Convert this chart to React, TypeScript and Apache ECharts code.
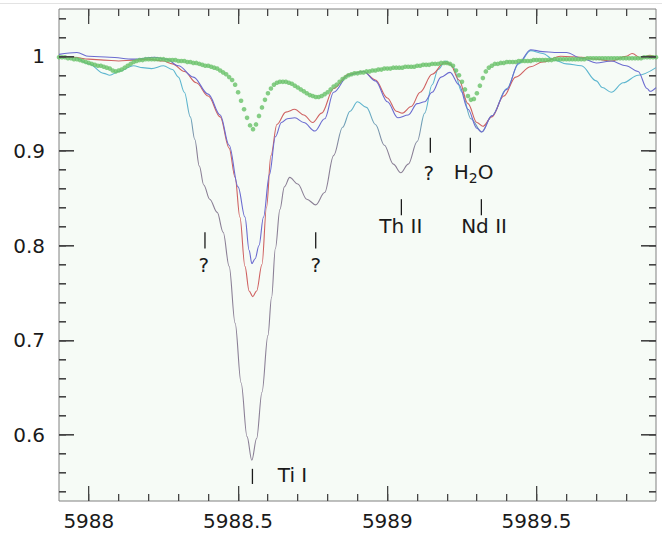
import React, { useEffect, useRef } from "react";
import * as echarts from "echarts";

// Axis ranges (wavelength in Å, normalised flux)
const WL_MIN = 5987.9;
const WL_MAX = 5989.9;
const FLUX_MIN = 0.53;
const FLUX_MAX = 1.05;

const xLabelTicks = [5988, 5988.5, 5989, 5989.5];
const xMinorTicks = [
  5988.0, 5988.1, 5988.2, 5988.3, 5988.4, 5988.5, 5988.6, 5988.7, 5988.8, 5988.9,
  5989.0, 5989.1, 5989.2, 5989.3, 5989.4, 5989.5, 5989.6, 5989.7, 5989.8,
];
const yLabelTicks = [0.6, 0.7, 0.8, 0.9, 1];
const yMinorTicks = [
  0.54, 0.56, 0.58, 0.6, 0.62, 0.64, 0.66, 0.68, 0.7, 0.72, 0.74, 0.76, 0.78,
  0.8, 0.82, 0.84, 0.86, 0.88, 0.9, 0.92, 0.94, 0.96, 0.98, 1.0, 1.02, 1.04,
];

// Deepest spectrum (cyan in the continuum, greyish in the cores)
const spectrumDeep: [number, number][] = [
  [5987.9, 1.0], [5987.95, 0.999], [5988.0, 0.992], [5988.05, 0.982], [5988.07, 0.98],
  [5988.1, 0.984], [5988.15, 0.99], [5988.18, 0.988], [5988.21, 0.987], [5988.25, 0.99],
  [5988.28, 0.986], [5988.3, 0.978], [5988.32, 0.962], [5988.34, 0.936], [5988.355, 0.912],
  [5988.37, 0.884], [5988.385, 0.864], [5988.405, 0.849], [5988.43, 0.835], [5988.45, 0.814],
  [5988.47, 0.778], [5988.49, 0.718], [5988.51, 0.655], [5988.53, 0.598], [5988.546, 0.573],
  [5988.562, 0.596], [5988.58, 0.645], [5988.6, 0.705], [5988.612, 0.745], [5988.625, 0.797],
  [5988.64, 0.838], [5988.655, 0.862], [5988.673, 0.872], [5988.7, 0.865], [5988.73, 0.849],
  [5988.76, 0.843], [5988.79, 0.856], [5988.82, 0.895], [5988.85, 0.925], [5988.875, 0.942],
  [5988.9, 0.952], [5988.93, 0.946], [5988.96, 0.928], [5988.99, 0.906], [5989.02, 0.886],
  [5989.045, 0.877], [5989.07, 0.886], [5989.1, 0.91], [5989.125, 0.94], [5989.15, 0.97],
  [5989.17, 0.986], [5989.195, 0.995], [5989.22, 0.989], [5989.25, 0.962], [5989.28, 0.934],
  [5989.316, 0.92], [5989.35, 0.937], [5989.4, 0.966], [5989.44, 0.992], [5989.48, 1.006],
  [5989.52, 1.003], [5989.56, 0.996], [5989.6, 0.992], [5989.65, 0.99], [5989.7, 0.974],
  [5989.72, 0.967], [5989.75, 0.962], [5989.79, 0.972], [5989.84, 0.98], [5989.9, 0.988],
];

const spectrumRed: [number, number][] = [
  [5987.9, 1.0], [5987.95, 0.999], [5988.0, 0.997], [5988.05, 0.996], [5988.1, 0.995],
  [5988.15, 0.996], [5988.2, 0.997], [5988.25, 0.995], [5988.28, 0.992], [5988.32, 0.984],
  [5988.36, 0.972], [5988.4, 0.958], [5988.44, 0.936], [5988.47, 0.903], [5988.49, 0.872],
  [5988.506, 0.83], [5988.523, 0.778], [5988.537, 0.752], [5988.549, 0.746], [5988.562, 0.752],
  [5988.58, 0.78], [5988.595, 0.84], [5988.61, 0.895], [5988.63, 0.928], [5988.66, 0.941],
  [5988.69, 0.944], [5988.72, 0.938], [5988.75, 0.93], [5988.78, 0.94], [5988.82, 0.966],
  [5988.87, 0.981], [5988.92, 0.984], [5988.96, 0.975], [5989.0, 0.956], [5989.03, 0.942],
  [5989.05, 0.94], [5989.08, 0.947], [5989.11, 0.962], [5989.15, 0.981], [5989.19, 0.993],
  [5989.21, 0.992], [5989.24, 0.975], [5989.27, 0.95], [5989.3, 0.93], [5989.32, 0.926],
  [5989.35, 0.936], [5989.39, 0.958], [5989.43, 0.978], [5989.48, 0.989], [5989.52, 0.994],
  [5989.58, 1.0], [5989.65, 0.999], [5989.7, 0.997], [5989.75, 0.995], [5989.8, 1.0],
  [5989.82, 1.003], [5989.85, 0.998], [5989.88, 1.001], [5989.9, 0.999],
];

const spectrumBlue: [number, number][] = [
  [5987.9, 1.002], [5987.96, 1.004], [5988.0, 1.0], [5988.07, 0.999], [5988.15, 0.997],
  [5988.22, 0.999], [5988.26, 0.997], [5988.3, 0.99], [5988.35, 0.978], [5988.4, 0.96],
  [5988.44, 0.938], [5988.47, 0.906], [5988.5, 0.862], [5988.523, 0.83], [5988.537, 0.795],
  [5988.546, 0.781], [5988.557, 0.786], [5988.57, 0.8], [5988.585, 0.83], [5988.605, 0.875],
  [5988.625, 0.915], [5988.645, 0.93], [5988.665, 0.934], [5988.69, 0.935], [5988.72, 0.93],
  [5988.757, 0.921], [5988.79, 0.934], [5988.82, 0.962], [5988.87, 0.98], [5988.92, 0.984],
  [5988.96, 0.974], [5989.0, 0.952], [5989.035, 0.935], [5989.07, 0.938], [5989.1, 0.95],
  [5989.125, 0.952], [5989.15, 0.962], [5989.18, 0.978], [5989.21, 0.983], [5989.24, 0.97],
  [5989.27, 0.944], [5989.3, 0.924], [5989.316, 0.92], [5989.35, 0.937], [5989.4, 0.965],
  [5989.44, 0.993], [5989.48, 1.007], [5989.52, 1.005], [5989.56, 1.004], [5989.6, 1.004],
  [5989.65, 0.998], [5989.7, 0.993], [5989.75, 0.995], [5989.8, 0.99], [5989.84, 0.984],
  [5989.87, 0.966], [5989.88, 0.963], [5989.9, 0.967],
];

// Telluric spectrum, sampled every 0.01 Å from 5987.90 Å
const telluricStart = 5987.9;
const telluricStep = 0.01;
const telluricFlux = [
  0.999, 0.999, 0.999, 0.998, 0.998, 0.997, 0.997, 0.996, 0.995, 0.994,
  0.993, 0.992, 0.991, 0.99, 0.99, 0.989, 0.988, 0.987, 0.985, 0.984,
  0.985, 0.986, 0.988, 0.99, 0.992, 0.994, 0.995, 0.996, 0.996, 0.997,
  0.997, 0.997, 0.997, 0.997, 0.997, 0.997, 0.996, 0.996, 0.996, 0.996,
  0.995, 0.995, 0.995, 0.994, 0.994, 0.993, 0.993, 0.992, 0.991, 0.99,
  0.99, 0.989, 0.988, 0.987, 0.985, 0.983, 0.981, 0.978, 0.975, 0.97,
  0.962, 0.953, 0.944, 0.935, 0.927, 0.923, 0.928, 0.937, 0.946, 0.954,
  0.961, 0.966, 0.97, 0.972, 0.973, 0.973, 0.973, 0.972, 0.971, 0.969,
  0.967, 0.965, 0.963, 0.961, 0.959, 0.958, 0.957, 0.957, 0.958, 0.96,
  0.962, 0.965, 0.968, 0.97, 0.973, 0.976, 0.978, 0.98, 0.981, 0.982,
  0.982, 0.983, 0.983, 0.984, 0.984, 0.985, 0.985, 0.986, 0.986, 0.987,
  0.987, 0.987, 0.988, 0.988, 0.988, 0.988, 0.989, 0.989, 0.989, 0.989,
  0.99, 0.99, 0.991, 0.991, 0.991, 0.992, 0.992, 0.992, 0.993, 0.993,
  0.993, 0.992, 0.99, 0.985, 0.98, 0.973, 0.965, 0.958, 0.954, 0.955,
  0.961, 0.969, 0.977, 0.984, 0.988, 0.99, 0.992, 0.992, 0.993, 0.993,
  0.994, 0.994, 0.994, 0.994, 0.995, 0.995, 0.995, 0.995, 0.995, 0.996,
  0.996, 0.996, 0.996, 0.996, 0.996, 0.996, 0.997, 0.997, 0.997, 0.997,
  0.997, 0.997, 0.997, 0.997, 0.997, 0.997, 0.997, 0.998, 0.998, 0.998,
  0.998, 0.998, 0.998, 0.998, 0.998, 0.998, 0.998, 0.998, 0.998, 0.998,
  0.998, 0.998, 0.998, 0.998, 0.998, 0.998, 0.999, 0.999, 0.999, 0.999,
  0.999,
];

// Line identifications: marker wavelength, marker extent, label anchor
type LineId = {
  label: string;
  wl: number;
  tickTop: number;
  tickBottom: number;
  labelWl: number;
  labelFlux: number;
  align: "center" | "left";
};
const lineIds: LineId[] = [
  { label: "?", wl: 5988.389, tickTop: 0.814, tickBottom: 0.797, labelWl: 5988.385, labelFlux: 0.779, align: "center" },
  { label: "?", wl: 5988.76, tickTop: 0.814, tickBottom: 0.797, labelWl: 5988.76, labelFlux: 0.779, align: "center" },
  { label: "Th II", wl: 5989.047, tickTop: 0.849, tickBottom: 0.832, labelWl: 5989.045, labelFlux: 0.821, align: "center" },
  { label: "?", wl: 5989.144, tickTop: 0.914, tickBottom: 0.898, labelWl: 5989.139, labelFlux: 0.877, align: "center" },
  { label: "H₂O", wl: 5989.278, tickTop: 0.914, tickBottom: 0.898, labelWl: 5989.289, labelFlux: 0.878, align: "center" },
  { label: "Nd II", wl: 5989.315, tickTop: 0.849, tickBottom: 0.832, labelWl: 5989.324, labelFlux: 0.821, align: "center" },
  { label: "Ti I", wl: 5988.548, tickTop: 0.564, tickBottom: 0.548, labelWl: 5988.633, labelFlux: 0.557, align: "left" },
];

const FONT = '"DejaVu Sans", "Noto Sans", sans-serif';
const TEXT_COLOR = "#1a1a1a";
const FRAME_COLOR = "#808080";
const TICK_COLOR = "#444444";
const MAJOR_LEN = 15;
const MINOR_LEN = 7;

function idLabel(d: LineId, x: number, y: number) {
  const base = { fill: TEXT_COLOR, font: `20px ${FONT}`, verticalAlign: "middle" };
  if (d.label === "H₂O") {
    // chemical formula with a real lowered subscript
    return [
      { type: "text", x: x - 4.8, y, style: { ...base, text: "H", align: "right" } },
      { type: "text", x: x - 4.8, y: y + 6, style: { ...base, font: `14px ${FONT}`, text: "2", align: "left" } },
      { type: "text", x: x + 4.1, y, style: { ...base, text: "O", align: "left" } },
    ];
  }
  return [{ type: "text", x, y, style: { ...base, text: d.label, align: d.align } }];
}

export default function App() {
  const ref = useRef<HTMLDivElement>(null);

  useEffect(() => {
    document.body.style.margin = "0";
    const chart = echarts.init(ref.current!, null, { renderer: "svg" });

    const telluric = telluricFlux.map((f, i) => [
      +(telluricStart + i * telluricStep).toFixed(2),
      f,
    ]);

    // colour stops over [0.5, 1.1] every 0.05: grey in the cores, cyan above ~0.95
    const deepStops = [
      "#8b8096", "#8b8096", "#8b8096", "#8b8096", "#8b8096", "#8b8096", "#8b8096",
      "#8b8096", "#8b8096", "#5db6cf", "#5db6cf", "#5db6cf", "#5db6cf",
    ];

    chart.setOption({
      animation: false,
      backgroundColor: "#ffffff",
      grid: {
        left: 59,
        right: 14,
        top: 9,
        bottom: 37,
        show: true,
        backgroundColor: "#f6fbf6",
        borderColor: FRAME_COLOR,
        borderWidth: 1,
      },
      xAxis: {
        type: "value",
        min: WL_MIN,
        max: WL_MAX,
        axisLine: { show: false },
        axisTick: { show: false },
        splitLine: { show: false },
        axisLabel: {
          customValues: xLabelTicks,
          formatter: (v: number) => String(v),
          fontFamily: FONT,
          fontSize: 20,
          color: TEXT_COLOR,
          margin: 10,
        },
      },
      yAxis: {
        type: "value",
        min: FLUX_MIN,
        max: FLUX_MAX,
        axisLine: { show: false },
        axisTick: { show: false },
        splitLine: { show: false },
        axisLabel: {
          customValues: yLabelTicks,
          formatter: (v: number) => String(Math.round(v * 10) / 10),
          fontFamily: FONT,
          fontSize: 20,
          color: TEXT_COLOR,
          margin: 14,
        },
      },
      visualMap: [
        {
          type: "continuous",
          show: false,
          seriesIndex: 0,
          dimension: 1,
          min: 0.5,
          max: 1.1,
          inRange: { color: deepStops },
        },
      ],
      series: [
        {
          name: "deep",
          type: "line",
          data: spectrumDeep,
          showSymbol: false,
          smooth: 0.35,
          smoothMonotone: "x",
          lineStyle: { width: 1.1 },
          z: 2,
        },
        {
          name: "red",
          type: "line",
          data: spectrumRed,
          showSymbol: false,
          smooth: 0.35,
          smoothMonotone: "x",
          lineStyle: { width: 1.1, color: "#cf6161" },
          itemStyle: { color: "#cf6161" },
          z: 3,
        },
        {
          name: "blue",
          type: "line",
          data: spectrumBlue,
          showSymbol: false,
          smooth: 0.35,
          smoothMonotone: "x",
          lineStyle: { width: 1.1, color: "#6b6bd0" },
          itemStyle: { color: "#6b6bd0" },
          z: 4,
        },
        {
          name: "telluric",
          type: "scatter",
          data: telluric,
          symbol: "circle",
          symbolSize: 4.6,
          itemStyle: { color: "#69c269" },
          z: 5,
        },
        {
          name: "ids",
          type: "custom",
          coordinateSystem: "cartesian2d",
          data: lineIds.map((d) => [d.wl, d.tickTop]),
          silent: true,
          z: 6,
          renderItem: (params: any, api: any) => {
            const d = lineIds[params.dataIndex];
            const top = api.coord([d.wl, d.tickTop]);
            const bot = api.coord([d.wl, d.tickBottom]);
            const lab = api.coord([d.labelWl, d.labelFlux]);
            return {
              type: "group",
              children: [
                {
                  type: "rect",
                  shape: { x: top[0] - 0.65, y: top[1], width: 1.3, height: bot[1] - top[1] },
                  style: { fill: TEXT_COLOR },
                },
                ...idLabel(d, lab[0], lab[1]),
              ],
            };
          },
        },
      ],
    });

    // Frame ticks on all four sides, placed through the chart's own scales
    const px = (x: number, y: number) =>
      chart.convertToPixel({ xAxisIndex: 0, yAxisIndex: 0 }, [x, y]) as number[];
    const tickEls: any[] = [];
    const rect = (x: number, y: number, w: number, h: number) =>
      tickEls.push({
        type: "rect",
        silent: true,
        z: 100,
        shape: { x, y, width: w, height: h },
        style: { fill: TICK_COLOR },
      });
    const vTick = (x: number, len: number) => {
      const b = px(x, FLUX_MIN);
      const t = px(x, FLUX_MAX);
      rect(Math.floor(b[0]), Math.round(b[1]) - len, 1.3, len);
      rect(Math.floor(t[0]), Math.round(t[1]), 1.3, len);
    };
    const hTick = (y: number, len: number) => {
      const l = px(WL_MIN, y);
      const r = px(WL_MAX, y);
      rect(Math.round(l[0]), Math.floor(l[1]), len, 1.6);
      rect(Math.round(r[0]) - len, Math.floor(r[1]), len, 1.6);
    };
    xMinorTicks.forEach((v) => vTick(v, MINOR_LEN));
    xLabelTicks.forEach((v) => vTick(v, MAJOR_LEN));
    yMinorTicks.forEach((v) => hTick(v, MINOR_LEN));
    yLabelTicks.forEach((v) => hTick(v, MAJOR_LEN));

    chart.setOption({
      graphic: [
        {
          type: "line",
          silent: true,
          shape: { x1: 0, y1: 3.5, x2: 662, y2: 3.5 },
          style: { stroke: "#e3e3e3", lineWidth: 1 },
        },
        ...tickEls,
      ],
    });

    return () => chart.dispose();
  }, []);

  return (
    <div
      ref={ref}
      style={{ position: "fixed", left: 0, top: 0, width: 670, height: 538, background: "#fff" }}
    />
  );
}
